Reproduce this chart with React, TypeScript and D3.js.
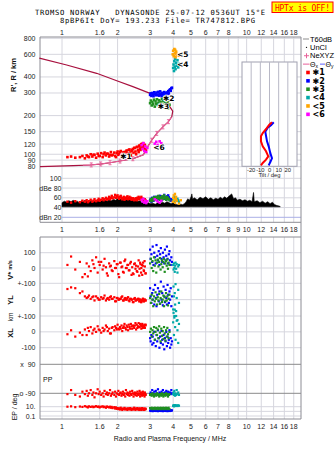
import React from "react";
import * as d3 from "d3";

const W = 335;
const H = 451;

// ---------- axis ticks ----------
const freqTicksTop = [1, 1.6, 2, 3, 4, 5, 6, 7, 8, 10, 12, 14, 16, 18];
const freqTicksMid = [1, 1.6, 2, 3, 4, 5, 6, 7, 8, 9, 10, 12, 14, 16, 18];
const freqGrid = [1, 1.6, 2, 3, 4, 5, 6, 7, 8, 9, 10, 12, 14, 16, 18];
const heightTicks = [800, 600, 400, 300, 200, 150, 120, 100, 90, 80];
const dbTicks: [number, string][] = [[100, "100"], [80, "dBe 80"], [60, "60"], [40, "40"], [20, "dBn 20"]];
const tiltTicks = [-20, -10, 0, 10, 20];

// ---------- profile (f MHz, h km) ----------
const profile: [number, number][] = [
  [0.76, 80], [1.15, 81.5], [1.42, 82.5], [1.61, 83.9], [1.82, 85.9], [2.06, 88.6], [2.43, 92.4],
  [2.76, 98.9], [2.88, 111.6], [3.06, 128.6], [3.26, 145.4], [3.52, 163.4], [3.77, 179.4], [3.93, 196],
  [3.98, 217], [3.84, 234], [3.69, 264], [3.39, 289], [3.0, 298], [2.42, 336], [1.98, 374],
  [1.54, 427], [1.06, 496], [0.754, 560],
];
const profileNe: [number, number][] = [
  [1.3, 82.2], [1.42, 82.5], [1.61, 83.9], [1.82, 85.9], [2.06, 88.6], [2.43, 92.4], [2.76, 98.9],
  [2.88, 111.6], [3.06, 128.6], [3.26, 145.4], [3.52, 163.4], [3.77, 179.4], [3.93, 196],
];
const neMarkers: [number, number][] = [
  [1.44, 82.6], [1.62, 84], [1.82, 85.9], [2.06, 88.6], [2.42, 92.3], [2.88, 111.6],
  [3.06, 128.6], [3.26, 145.4], [3.52, 163.4], [3.77, 179.4],
];

// ---------- tilt inset (deg, h km) ----------
const tiltX: [number, number][] = [
  [2.7, 177.5], [-0.2, 169.8], [-3.0, 160], [-7.4, 146.4], [-9.3, 138], [-9.3, 126.1],
  [-7.4, 115.3], [-3.8, 105.5], [-1.3, 96.4], [-3.8, 90.8], [-7.4, 85.5], [-9.3, 82],
];
const tiltY: [number, number][] = [
  [4.6, 177.5], [1.6, 168.5], [-2.0, 161], [-4.6, 150], [-2.7, 126.1], [-0.9, 115.3],
  [0.9, 102], [2.7, 93], [0.9, 87], [-0.9, 82],
];

// ---------- echoes: [f, h, dB, V*, YL, XL, PP, EP] ----------
const echoes1: number[][] = [
  [1.07, 95, 52, 20, 65, -15, -95, 10], [1.12, 96, 50, 75, 75, 10, -70, 12], [1.18, 94, 53, -10, 70, -30, -100, 8],
  [1.25, 95, 51, 40, 40, -5, -110, 11], [1.29, 97, 54, -60, 50, -20, -80, 9], [1.33, 93, 52, -40, 20, 15, -95, 13],
  [1.36, 98, 55, 30, 10, -20, -75, 10], [1.38, 96, 51, -55, 15, 25, -105, 7], [1.40, 95, 53, 10, 25, 5, -90, 12],
  [1.43, 100, 56, -20, 5, 30, -70, 9], [1.46, 96, 52, 50, 15, -10, -100, 11], [1.48, 99, 54, 25, 20, 10, -85, 8],
  [1.50, 99, 57, 0, -5, 20, -115, 10], [1.53, 94, 53, 70, 20, 0, -90, 13], [1.56, 101, 55, -30, 10, 35, -65, 9],
  [1.58, 97, 58, 40, 0, 15, -95, 11], [1.60, 97, 54, 20, 0, 10, -80, 7], [1.63, 102, 56, 40, 15, -5, -100, 10],
  [1.66, 95, 59, -10, 5, 25, -90, 12], [1.68, 100, 55, 15, 10, 5, -110, 8], [1.70, 103, 57, 60, 25, 15, -75, 10],
  [1.73, 98, 60, 5, -5, 40, -95, 6], [1.75, 101, 56, -35, 5, 30, -85, 11], [1.77, 101, 58, -50, 10, 5, -100, 9],
  [1.80, 96, 62, 30, 0, 20, -90, 7], [1.82, 99, 57, 10, 15, -10, -70, 10], [1.84, 104, 60, 15, 20, -10, -105, 6],
  [1.86, 98, 64, -15, 5, 25, -95, 9], [1.88, 99, 59, -20, 5, 30, -85, 5], [1.92, 103, 61, 45, 15, 10, -100, 8],
  [1.94, 97, 66, 0, -10, 35, -80, 4], [1.96, 95, 60, 0, -10, 25, -110, 7], [1.98, 102, 63, 25, 10, 15, -90, 3.5],
  [2.00, 105, 65, 25, 10, 45, -95, 5], [2.02, 99, 61, -40, 0, 20, -75, 3], [2.04, 100, 58, -60, 0, 15, -100, 4.5],
  [2.06, 104, 62, 35, 5, 30, -90, 2.5], [2.08, 106, 64, 35, 5, 20, -85, 6], [2.10, 98, 60, 5, 15, 40, -105, 3.5],
  [2.12, 97, 57, 10, 20, 5, -95, 2], [2.14, 103, 59, -25, -5, 25, -80, 4], [2.16, 104, 62, -30, -5, 35, -100, 3],
  [2.18, 100, 56, 45, 5, 50, -90, 5.5], [2.20, 99, 60, 55, 10, 25, -110, 2.5], [2.22, 105, 58, 0, 0, 15, -70, 4],
  [2.24, 107, 61, 0, 0, 40, -95, 3], [2.26, 101, 63, 20, 10, 30, -85, 2], [2.28, 101, 57, 20, 15, 10, -100, 4.5],
  [2.30, 108, 59, -15, -5, 45, -90, 3.5], [2.32, 109, 62, -15, -10, 30, -105, 2.5], [2.34, 103, 58, 30, 5, 20, -80, 5],
  [2.36, 98, 60, 40, 5, 50, -95, 3], [2.38, 106, 56, -45, 0, 35, -100, 2], [2.40, 108, 57, 5, 0, 20, -75, 4],
  [2.42, 110, 59, -35, -15, 40, -90, 3], [2.44, 103, 58, -40, -15, 35, -110, 2.5], [2.46, 112, 55, 25, 5, 25, -95, 6],
  [2.48, 112, 56, 30, 10, 40, -85, 3.5], [2.50, 105, 58, -5, -5, 55, -100, 2], [2.52, 100, 59, 15, -5, 15, -90, 4],
  [2.54, 114, 55, -20, 0, 45, -105, 3], [2.56, 114, 60, -25, 0, 25, -80, 5], [2.58, 108, 57, 10, 5, 35, -95, 2.5],
  [2.60, 104, 62, 50, 5, 55, -100, 3.5], [2.62, 116, 58, -50, -10, 30, -90, 2], [2.63, 117, 60, -5, -10, 30, -75, 4.5],
  [2.65, 111, 57, 35, 0, 50, -110, 3], [2.66, 108, 59, 25, 0, 45, -95, 2.5], [2.68, 119, 56, -30, -15, 40, -85, 4],
  [2.69, 120, 62, 0, -15, 20, -100, 2], [2.71, 113, 58, 20, -5, 35, -90, 3.5], [2.72, 110, 56, -45, -5, 50, -105, 5],
  [2.74, 121, 57, 15, 5, 25, -80, 2.5], [2.75, 122, 58, 35, 5, 40, -95, 3], [2.77, 115, 55, -15, -10, 30, -100, 4],
  [2.78, 112, 55, -20, -10, 35, -90, 2], [2.80, 118, 56, 45, 0, 45, -110, 3.5], [2.81, 118, 57, 10, 0, 25, -85, 2.5],
  [2.83, 109, 54, -35, -5, 40, -95, 4], [2.84, 106, 54, -35, -5, 45, -100, 3],
];
const echoes2: number[][] = [
  [3.00, 290, 55, 120, 70, -40, -95, 1.5], [3.02, 298, 58, 60, 20, -60, -85, 1.2], [3.05, 285, 52, 90, -20, -20, -100, 1.8],
  [3.08, 300, 60, 40, 40, -80, -70, 1.4], [3.10, 292, 56, 140, 0, -30, -90, 1.1], [3.13, 283, 54, 20, 60, -70, -95, 1.6],
  [3.16, 304, 62, 100, -30, 0, -80, 1.3], [3.19, 295, 57, 70, 90, -50, -100, 1.5], [3.22, 288, 59, 30, 10, -90, -75, 1.2],
  [3.25, 302, 61, 150, -40, -20, -90, 1.7], [3.28, 291, 55, 80, 30, -60, -95, 1.4], [3.31, 306, 63, 50, 70, 10, -65, 1.1],
  [3.34, 286, 58, 110, -10, -40, -100, 1.6], [3.37, 297, 60, 20, 50, -100, -85, 1.3], [3.40, 309, 64, 90, -25, -30, -90, 1.5],
  [3.43, 293, 57, 130, 110, -70, -95, 1.2], [3.46, 284, 55, 60, 0, 5, -80, 1.8], [3.49, 301, 62, 40, 40, -50, -100, 1.4],
  [3.52, 296, 59, 100, -35, -80, -70, 1.1], [3.55, 288, 61, 70, 80, -20, -90, 1.6], [3.58, 305, 66, 30, 20, -110, -95, 1.3],
  [3.61, 292, 58, 120, -15, -40, -85, 1.5], [3.64, 299, 60, 50, 60, -60, -100, 1.2], [3.67, 287, 56, 80, 10, 0, -75, 1.7],
  [3.70, 303, 63, 140, -30, -90, -90, 1.4], [3.73, 294, 59, 60, 90, -30, -95, 1.1], [3.76, 310, 65, 30, 30, -70, -80, 1.6],
  [3.79, 298, 61, 90, -20, -50, -100, 1.3], [3.82, 315, 58, 110, 50, 10, -90, 1.5], [3.85, 320, 56, 50, 0, -100, -85, 1.2],
  [3.88, 312, 54, 20, 70, -40, -95, 1.8], [3.91, 326, 57, 70, -40, -80, -70, 1.4], [3.94, 330, 55, 40, 20, -60, -90, 1.6],
];
const echoes3: number[][] = [
  [3.00, 250, 54, 30, 10, 0, -100, 5], [3.03, 262, 57, 60, -20, 20, -95, 4], [3.06, 240, 53, 0, 30, -30, -105, 6],
  [3.09, 255, 59, 45, 0, 10, -90, 3], [3.12, 245, 55, -20, -40, -10, -100, 5], [3.15, 266, 61, 70, 20, 30, -110, 4],
  [3.18, 235, 56, 15, -10, -50, -95, 6], [3.21, 258, 58, 50, 45, 0, -100, 3], [3.24, 248, 62, -30, 5, 25, -105, 5],
  [3.27, 268, 57, 35, -30, -20, -90, 4], [3.30, 242, 60, 55, 15, 15, -100, 6], [3.33, 252, 64, 10, -5, -40, -95, 3],
  [3.36, 263, 59, 40, 35, 35, -110, 5], [3.39, 238, 56, 65, -25, -5, -100, 4], [3.42, 256, 61, -10, 10, -60, -95, 6],
  [3.45, 246, 58, 25, 50, 20, -105, 3], [3.48, 270, 63, 50, -15, -25, -90, 5], [3.51, 232, 57, 5, 0, 5, -100, 4],
  [3.54, 259, 60, 40, 25, -45, -110, 6], [3.57, 244, 65, 60, -40, 30, -95, 3], [3.60, 265, 59, -25, 15, -10, -100, 5],
  [3.63, 250, 61, 30, -10, -55, -105, 4], [3.66, 236, 56, 45, 40, 10, -90, 6], [3.69, 257, 62, 15, -5, -30, -100, 3],
  [3.72, 247, 58, 55, 20, 25, -95, 5], [3.75, 228, 60, -5, -35, -15, -110, 4], [3.78, 261, 57, 35, 5, -40, -100, 6],
  [3.82, 243, 55, 20, 30, 0, -95, 3],
];
const echoes4: number[][] = [
  [4.00, 470, 55, 20, -60, 60, -95, 15], [4.02, 500, 58, -10, 80, 120, -85, 20], [4.04, 445, 53, 30, 20, -20, -100, 12],
  [4.06, 530, 60, 0, -100, 90, -75, 18], [4.08, 480, 62, -25, 40, 140, -95, 22], [4.10, 555, 57, 15, -30, 30, -105, 14],
  [4.12, 460, 59, 35, 95, -50, -90, 20], [4.15, 515, 56, -5, -70, 100, -100, 16], [4.18, 490, 54, 25, 10, 70, -70, 18],
  [4.22, 540, 58, -30, -125, 10, -95, 14], [4.26, 475, 55, 10, 60, -70, -85, 20], [4.30, 505, 52, 20, -20, 50, -100, 16],
];
// [f, h, dB]
const echoes5: number[][] = [
  [3.98, 600, 52], [4.00, 640, 60], [4.03, 580, 65], [4.06, 660, 56], [4.09, 610, 68], [4.12, 570, 58],
  [4.15, 630, 62], [4.18, 595, 54], [4.10, 650, 50], [4.14, 615, 57], [4.30, 585, 48], [4.40, 600, 55],
];
const echoes6: number[][] = [
  [2.70, 118, 56], [2.73, 110, 52], [2.76, 122, 58], [2.79, 106, 50], [2.82, 115, 54], [2.86, 104, 49],
  [2.90, 112, 53], [3.18, 121, 57], [3.24, 125, 55], [3.30, 118, 52], [3.38, 126, 50], [3.45, 122, 54],
];

// ---------- black amplitude trace [f, dB] ----------
const ampTrace: [number, number][] = [
  [1.00, 50], [1.03, 53], [1.06, 51], [1.09, 54], [1.12, 52], [1.15, 55], [1.18, 51], [1.21, 53], [1.24, 50],
  [1.27, 54], [1.30, 52], [1.33, 55], [1.36, 53], [1.40, 51], [1.44, 54], [1.48, 52], [1.52, 55], [1.56, 53],
  [1.60, 56], [1.64, 54], [1.68, 57], [1.72, 55], [1.76, 53], [1.80, 56], [1.85, 54], [1.90, 57], [1.95, 55],
  [2.00, 58], [2.05, 56], [2.10, 59], [2.15, 57], [2.20, 60], [2.25, 58], [2.30, 61], [2.35, 59], [2.40, 57],
  [2.45, 58], [2.50, 55], [2.55, 56], [2.60, 53], [2.65, 54], [2.70, 51], [2.75, 52], [2.80, 50], [2.85, 51],
  [2.90, 49], [2.95, 50], [3.00, 48], [3.10, 49], [3.20, 47], [3.30, 50], [3.40, 48], [3.50, 51], [3.60, 49],
  [3.70, 52], [3.80, 50], [3.90, 48], [4.00, 50], [4.10, 47], [4.20, 46], [4.30, 45], [4.40, 47], [4.50, 46],
  [4.60, 48], [4.70, 52], [4.80, 58], [4.90, 55], [5.00, 62], [5.05, 68], [5.10, 57], [5.20, 60], [5.40, 56],
  [5.60, 61], [5.80, 58], [6.00, 62], [6.20, 57], [6.40, 60], [6.60, 56], [6.80, 59], [7.00, 57], [7.20, 61],
  [7.40, 58], [7.60, 62], [7.80, 59], [8.00, 63], [8.30, 68], [8.50, 58], [8.70, 60], [8.90, 55], [9.20, 57],
  [9.50, 54], [9.80, 56], [10.1, 53], [10.4, 55], [10.7, 52], [10.9, 71], [11.0, 52], [11.4, 54], [11.8, 50],
  [12.2, 53], [12.6, 49], [13.0, 52], [13.4, 48], [13.8, 51], [14.2, 46], [14.6, 44], [15.0, 43], [15.2, 42],
];

const echoLabels: [string, number, number][] = [
  ["✱1", 2.07, 91.5], ["✱2", 3.52, 262], ["✱3", 3.3, 226], ["<4", 4.2, 475], ["<5", 4.2, 570], ["<6", 3.12, 108],
];

const red = "#ff0000", blue = "#0000ff", green = "#1f8f1f", teal = "#00a8a8", orange = "#ffa500", magenta = "#ff00ff";
const crimson = "#a8103e", pink = "#e8609a";

const legendItems: [string, string, string][] = [
  ["T60dB", "line", "#a0a0a0"], ["UnCl", "dot", "#000"], ["NeXYZ", "plus", pink], ["Θx", "tilt", pink],
  ["✱1", "sq", red], ["✱2", "sq", blue], ["✱3", "sq", green], ["<4", "sq", teal], ["<5", "sq", orange], ["<6", "sq", magenta],
];

// ---------- scales ----------
const xF = d3.scaleLog().domain([0.76, 19.7]).range([40, 301]);
const yH = d3.scaleLog().domain([80, 800]).range([166.7, 38.3]);
const yDb = d3.scaleLinear().domain([20, 100]).range([217.3, 178.3]);
const yV = d3.scaleLinear().domain([-100, 100]).range([283.3, 252.7]);
const yYL = d3.scaleLinear().domain([-100, 100]).range([316, 283.3]);
const yXL = d3.scaleLinear().domain([-100, 100]).range([347.7, 316]);
const yPP = d3.scaleLinear().domain([-90, 90]).range([393.3, 364.3]);
const yEP = d3.scaleLog().domain([0.1, 10]).range([416, 406.7]);
const xTilt = d3.scaleLinear().domain([-30, 30]).range([242, 297]);

const FONT = "'Liberation Sans', Arial, sans-serif";
const MONO = "'DejaVu Sans Mono', monospace";
const GRID = "#d6d6de";
const FRAME = "#8c8c94";

const L = 40, R = 301, T1 = 37, B1 = 222.3, T2 = 237, B2 = 419;

function Sq({ x, y, c, s = 2.4 }: { x: number; y: number; c: string; s?: number }) {
  return <rect x={x - s / 2} y={y - s / 2} width={s} height={s} fill={c} />;
}

export default function App() {
  const profLine = d3.line<[number, number]>().x((d) => xF(d[0])).y((d) => yH(d[1]));
  const tiltLine = d3.line<[number, number]>().x((d) => xTilt(d[0])).y((d) => yH(d[1]));
  const ampArea = d3.area<[number, number]>().x((d) => xF(d[0])).y0(yDb(41.5)).y1((d) => yDb(d[1]));

  const series: [number[][], string][] = [
    [echoes1, red], [echoes2, blue], [echoes3, green], [echoes4, teal],
  ];
  const lowerScales = [yV, yYL, yXL, yPP, yEP];

  return (
    <svg width={W} height={H} style={{ display: "block", position: "absolute", left: 0, top: 0 }} fontFamily={FONT}>
      <rect x={0} y={0} width={W} height={H} fill="#fff" />
      {/* Title */}
      <text x={35} y={14.5} fontFamily={MONO} fontSize={7.2} textLength={230} lengthAdjust="spacing" fill="#000" style={{ whiteSpace: "pre" }}>
        {"TROMSO NORWAY   DYNASONDE 25-07-12 0536UT 15°E"}
      </text>
      <text x={60} y={23} fontFamily={MONO} fontSize={7.2} textLength={195} lengthAdjust="spacing" fill="#000" style={{ whiteSpace: "pre" }}>
        {"8pBP6It DoY= 193.233 File= TR747812.BPG"}
      </text>
      <rect x={272} y={2} width={61} height={10.5} fill="#ffff00" stroke="#ff0000" strokeWidth={1} />
      <text x={275} y={10.6} fontFamily={MONO} fontSize={8} textLength={55} lengthAdjust="spacing" fill="#ff0000" style={{ whiteSpace: "pre" }}>
        {"HPTx is OFF!"}
      </text>

      {/* Top frame grid */}
      {freqGrid.map((f) => (
        <line key={"vg1" + f} x1={xF(f)} x2={xF(f)} y1={T1} y2={B1} stroke={GRID} strokeWidth={1} />
      ))}
      {heightTicks.map((h) => (
        <line key={"hg" + h} x1={L} x2={R} y1={yH(h)} y2={yH(h)} stroke={GRID} strokeWidth={1} />
      ))}
      {dbTicks.map(([v]) => (
        <line key={"dg" + v} x1={xF(1)} x2={R} y1={yDb(v)} y2={yDb(v)} stroke={v === 20 ? "#aab0e6" : GRID} strokeWidth={1} />
      ))}
      {/* Lower frame grid */}
      {freqGrid.map((f) => (
        <line key={"vg2" + f} x1={xF(f)} x2={xF(f)} y1={T2} y2={B2} stroke={GRID} strokeWidth={1} />
      ))}
      {[yV(100), yV(0), yV(-100), yYL(0), yYL(-100), yXL(0), yXL(-100), yEP(10), yEP(1), yEP(0.1)].map((y, i) => (
        <line key={"lg" + i} x1={L} x2={R} y1={y} y2={y} stroke={GRID} strokeWidth={1} />
      ))}
      {[yPP(90), yPP(-90)].map((y, i) => (
        <line key={"pp" + i} x1={L} x2={R} y1={y} y2={y} stroke="#8a8a8a" strokeWidth={1} />
      ))}

      {/* frames */}
      <line x1={L} x2={L} y1={T1} y2={B1} stroke={FRAME} />
      <line x1={L} x2={R} y1={T1} y2={T1} stroke={FRAME} />
      <line x1={L} x2={R} y1={B1} y2={B1} stroke={FRAME} />
      <line x1={L} x2={L} y1={T2} y2={B2} stroke={FRAME} />
      <line x1={L} x2={R} y1={T2} y2={T2} stroke={FRAME} />
      <line x1={L} x2={R} y1={B2} y2={B2} stroke={FRAME} />
      <line x1={R} x2={R} y1={T1} y2={B2} stroke={FRAME} />

      {/* Tick labels */}
      {freqTicksTop.map((f) => (
        <text key={"tt" + f} x={xF(f)} y={34.5} fontSize={7} textAnchor="middle" fill="#222">{f}</text>
      ))}
      {freqTicksMid.map((f) => (
        <text key={"tm" + f} x={xF(f)} y={231.5} fontSize={7} textAnchor="middle" fill="#222">{f}</text>
      ))}
      {freqTicksTop.map((f) => (
        <text key={"tb" + f} x={xF(f)} y={428.5} fontSize={7} textAnchor="middle" fill="#222">{f}</text>
      ))}
      {heightTicks.map((h) => (
        <text key={"ht" + h} x={35.5} y={yH(h) + 2.5} fontSize={7} textAnchor="end" fill="#222">{h}</text>
      ))}
      {dbTicks.map(([v, t]) => (
        <text key={"dt" + v} x={61.5} y={yDb(v) + 2.5} fontSize={7} textAnchor="end" fill="#222">{t}</text>
      ))}
      {([
        [yV(100), "100"], [yV(0), "0"], [yV(-100), "+-100"], [yYL(0), "0"], [yYL(-100), "+-100"],
        [yXL(0), "0"], [yXL(-100), "-100"], [yPP(90), "x  90"], [yPP(-90), "o -90"], [yEP(10), "10."], [yEP(0.1), "0.1"],
      ] as [number, string][]).map(([y, t], i) => (
        <text key={"lt" + i} x={35.5} y={y + 2.5} fontSize={7} textAnchor="end" fill="#222" style={{ whiteSpace: "pre" }}>{t}</text>
      ))}

      {/* axis titles */}
      <text transform="translate(13,75) rotate(-90)" fontSize={7.5} fontWeight="bold" textAnchor="middle" dominantBaseline="central" fill="#111">R', R / km</text>
      <text transform="translate(10,270) rotate(-90)" fontSize={7.5} fontWeight="bold" textAnchor="middle" dominantBaseline="central" fill="#111">V* <tspan fontSize={5.5}>m/s</tspan></text>
      <text transform="translate(10,300) rotate(-90)" fontSize={7.5} fontWeight="bold" textAnchor="middle" dominantBaseline="central" fill="#111">YL</text>
      <text transform="translate(10,317) rotate(-90)" fontSize={6.5} textAnchor="middle" dominantBaseline="central" fill="#111">km</text>
      <text transform="translate(10,333) rotate(-90)" fontSize={7.5} fontWeight="bold" textAnchor="middle" dominantBaseline="central" fill="#111">XL</text>
      <text x={43} y={381.5} fontSize={7} fill="#111">PP</text>
      <text transform="translate(14,407) rotate(-90)" fontSize={7} textAnchor="middle" dominantBaseline="central" fill="#111">EP / deg</text>
      <text x={170} y={440.5} fontSize={7} textAnchor="middle" fill="#111">Radio and Plasma Frequency / MHz</text>

      {/* amplitude trace */}
      <path d={ampArea(ampTrace) || ""} fill="#000" stroke="#000" strokeWidth={0.6} />

      {/* profile */}
      <path d={profLine(profile) || ""} fill="none" stroke={crimson} strokeWidth={1.2} />
      <path d={profLine(profileNe) || ""} fill="none" stroke={pink} strokeWidth={1} />
      {neMarkers.map(([f, h], i) => {
        const x = xF(f), y = yH(h);
        return (
          <g key={"ne" + i} stroke={pink} strokeWidth={0.9}>
            <line x1={x} x2={x} y1={y - 2} y2={y + 2} />
            <line x1={x - 1.5} x2={x + 1.5} y1={y - 2} y2={y - 2} />
            <line x1={x - 1.5} x2={x + 1.5} y1={y + 2} y2={y + 2} />
          </g>
        );
      })}

      {/* echoes in height panel */}
      {series.map(([arr, c]) => arr.map((d, i) => <Sq key={c + "h" + i} x={xF(d[0])} y={yH(d[1])} c={c} s={2.6} />))}
      {echoes5.map((d, i) => <Sq key={"o" + i} x={xF(d[0])} y={yH(d[1])} c={orange} s={2.6} />)}
      {echoes6.map((d, i) => <Sq key={"m" + i} x={xF(d[0])} y={yH(d[1])} c={magenta} s={2.6} />)}

      {/* echo labels */}
      {echoLabels.map(([t, f, h]) => (
        <text key={t} x={xF(f)} y={yH(h)} fontSize={7.5} fontWeight="bold" fontFamily="'DejaVu Sans', sans-serif"
          fill="#000" stroke="#fff" strokeWidth={1.5} paintOrder="stroke">{t}</text>
      ))}

      {/* echoes amplitude */}
      {series.map(([arr, c]) => arr.map((d, i) => <Sq key={c + "a" + i} x={xF(d[0])} y={yDb(d[2])} c={c} s={2.4} />))}
      {echoes5.map((d, i) => <Sq key={"oa" + i} x={xF(d[0])} y={yDb(d[2])} c={orange} s={2.4} />)}
      {echoes6.map((d, i) => <Sq key={"ma" + i} x={xF(d[0])} y={yDb(d[2])} c={magenta} s={2.4} />)}

      {/* lower panels */}
      {series.map(([arr, c]) =>
        lowerScales.map((sc, k) =>
          arr.map((d, i) => <Sq key={c + "l" + k + "_" + i} x={xF(d[0])} y={(sc as any)(d[3 + k])} c={c} s={2.2} />)
        )
      )}

      {/* tilt inset */}
      <rect x={xTilt(-30)} y={62} width={xTilt(30) - xTilt(-30)} height={166.3 - 62} fill="#fff" stroke="#a0a0b0" strokeWidth={1} />
      {tiltTicks.map((t) => (
        <line key={"tg" + t} x1={xTilt(t)} x2={xTilt(t)} y1={62} y2={166.3} stroke="#b8b8c6" strokeWidth={1} />
      ))}
      {tiltTicks.map((t) => (
        <text key={"tl" + t} x={xTilt(t)} y={171.8} fontSize={5.8} textAnchor="middle" fill="#222">{t}</text>
      ))}
      <text x={xTilt(0)} y={176.5} fontSize={5.8} textAnchor="middle" fill="#222">Tilt / deg</text>
      <path d={tiltLine(tiltY) || ""} fill="none" stroke={blue} strokeWidth={2} />
      <path d={tiltLine(tiltX) || ""} fill="none" stroke={red} strokeWidth={2} />

      {/* legend */}
      {legendItems.map(([label, kind, c], i) => {
        const y = 39 + i * 8.37;
        const fs = 7.5;
        if (kind === "line")
          return (
            <g key={label}>
              <line x1={303} x2={309} y1={y} y2={y} stroke={c} strokeWidth={1.2} />
              <text x={310} y={y + 2.6} fontSize={fs} fill="#000">{label}</text>
            </g>
          );
        if (kind === "dot")
          return (
            <g key={label}>
              <circle cx={306.5} cy={y} r={0.7} fill={c} />
              <text x={310} y={y + 2.6} fontSize={fs} fill="#000">{label}</text>
            </g>
          );
        if (kind === "plus")
          return (
            <g key={label}>
              <line x1={304} x2={309} y1={y} y2={y} stroke={c} strokeWidth={1} />
              <line x1={306.5} x2={306.5} y1={y - 2.5} y2={y + 2.5} stroke={c} strokeWidth={1} />
              <text x={310} y={y + 2.6} fontSize={fs} fill="#000">{label}</text>
            </g>
          );
        if (kind === "tilt")
          return (
            <g key={label}>
              <line x1={303} x2={309.5} y1={y} y2={y} stroke={pink} strokeWidth={1} />
              <text x={310} y={y + 2.6} fontSize={7} fill="#000">Θ<tspan fontSize={5} dy={1}>x</tspan></text>
              <line x1={320} x2={325} y1={y} y2={y} stroke="#6060ff" strokeWidth={1} />
              <text x={325.5} y={y + 2.6} fontSize={7} fill="#000">Θ<tspan fontSize={5} dy={1}>y</tspan></text>
            </g>
          );
        return (
          <g key={label}>
            <rect x={306.2} y={y - 1.8} width={3.6} height={3.6} fill={c} />
            <text x={312.5} y={y + 2.8} fontSize={8} fontWeight="bold" fontFamily="'DejaVu Sans', sans-serif" fill="#000">{label}</text>
          </g>
        );
      })}
    </svg>
  );
}
